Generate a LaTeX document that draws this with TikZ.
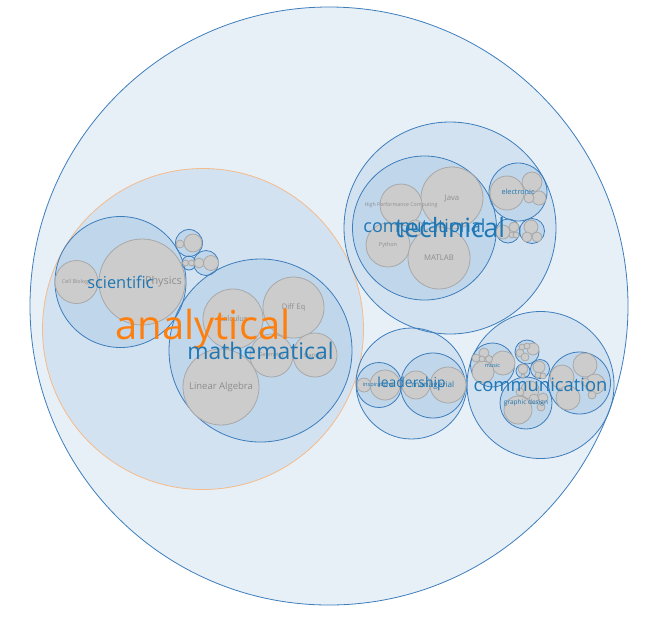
\documentclass[tikz,border=0pt]{standalone}
\usepackage{fontspec}
\setmainfont{Open Sans}
\usetikzlibrary{positioning}
\definecolor{packblue}{HTML}{3A7FC1}
\definecolor{rim}{HTML}{3D7DBB}
\definecolor{rimorange}{HTML}{F5BB8A}
\definecolor{leafgray}{HTML}{CCCCCC}
\definecolor{leafrim}{HTML}{A8A8A8}
\definecolor{tagblue}{HTML}{1F77B4}
\definecolor{tagorange}{HTML}{FF7F0E}
\definecolor{taggray}{HTML}{8E8E8E}

\begin{document}
\begin{tikzpicture}[x=1pt, y=-1pt,
  group/.style={circle, draw=rim, line width=0.8pt, fill=packblue, fill opacity=0.12, inner sep=0pt, outer sep=0pt, minimum size=#1},
  leaf/.style={circle, draw=leafrim, line width=0.8pt, fill=leafgray, inner sep=0pt, outer sep=0pt, minimum size=#1},
  tag/.style={text=tagblue, inner sep=0pt, font=\fontsize{#1}{#1}\selectfont},
  leaftag/.style={text=taggray, inner sep=0pt, font=\fontsize{#1}{#1}\selectfont}]
\useasboundingbox (0,0) rectangle (666,622);
% groups
\node[group=598pt] (skills) at (329,306) {};
\node[group=321pt, draw=rimorange] (analytical) at (203,329) {};
\node[group=131pt] (scientific) at (120.5,282) {};
\node[group=27pt] (sciA) at (189,243) {};
\node[group=14pt] (sciB) at (189,263) {};
\node[group=25pt] (sciC) at (206,263) {};
\node[group=183pt] (mathematical) at (260.5,350.5) {};
\node[group=212pt] (technical) at (450,228) {};
\node[group=144pt] (computational) at (424.5,228) {};
\node[group=58pt] (electronic) at (518,192) {};
\node[group=24pt] (techA) at (508,231) {};
\node[group=25pt] (techB) at (532,231) {};
\node[group=111pt] (leadership) at (411.5,383.5) {};
\node[group=45pt] (inspirational) at (379,385) {};
\node[group=65pt] (managerial) at (433,385.5) {};
\node[group=147pt] (communication) at (540.5,385) {};
\node[group=44pt] (music) at (492.5,365) {};
\node[group=24pt] (commA) at (527,352) {};
\node[group=19pt] (commB) at (540,369) {};
\node[group=14pt] (commC) at (523,371) {};
\node[group=52pt] (graphic) at (526,403) {};
\node[group=62pt] (commD) at (579.5,383) {};
% named leaves
\node[leaf=43pt] (cellbio) at (76.5,282) {};
\node[leaf=86pt] (physics) at (142,282) {};
\node[leaf=60pt] (calculus) at (233,319) {};
\node[leaf=61pt] (diffeq) at (293.5,307.5) {};
\node[leaf=43pt] (geometry) at (271.5,355.5) {};
\node[leaf=44pt] (statistics) at (315,355) {};
\node[leaf=76pt] (linalg) at (221,387) {};
\node[leaf=62pt] (java) at (452,198) {};
\node[leaf=42pt] (hpc) at (401,205) {};
\node[leaf=44pt] (python) at (388,245) {};
\node[leaf=62pt] (matlab) at (439,258) {};
% small leaves
\foreach \x/\y/\d [count=\i] in {
  180/244/8, 193/243/18, 185.5/263/6, 191.5/263/6, 199/263/10, 211/263/15,
  415/228/16, 507/193/34, 532/182/20, 539/198/14, 529/198/10,
  503/232/14, 514/227/10, 512/235/6, 516/235/6, 531/227/14, 527/237/10, 537/237/10,
  364/385/14, 385/385/30, 416/385/28, 448/385/36,
  503/363/24, 483/372/22, 484/353/10, 476/358/8, 489/359/7, 482/359/6,
  533/349/12, 520/353/8, 525/357/8, 522/347/6, 527/346/6,
  539/367/12, 538/375/6, 543/376/6, 523/369/10, 523/376/4,
  518/410/28, 530/390/18, 534/399/10, 543/398/10, 541/407/8, 520/392/8,
  585/365/24, 562/377/24, 568/398/24, 595/384/20, 585/382/8, 592/395/8}
  \node[leaf=\d pt] (bit\i) at (\x,\y) {};
% leaf labels
\node[leaftag=5.4] at (cellbio) {Cell Biology};
\node[leaftag=10.8, anchor=east] at ([xshift=-3pt]physics.east) {Physics};
\node[leaftag=7.5] at (calculus) {Calculus};
\node[leaftag=7.6] at (diffeq) {Diff Eq};
\node[leaftag=5.4] at (geometry) {Geometry};
\node[leaftag=5.5] at (statistics) {Statistics};
\node[leaftag=9.5] at (linalg) {Linear Algebra};
\node[leaftag=7.75] at (java) {Java};
\node[leaftag=5.25] at (hpc) {High Performance Computing};
\node[leaftag=5.5] at (python) {Python};
\node[leaftag=7.75] at (matlab) {MATLAB};
% group labels
\node[tag=7.25] at (electronic) {electronic};
\node[tag=5.6] at (inspirational) {inspirational};
\node[tag=8.1] at (managerial) {managerial};
\node[tag=5.5] at (music) {music};
\node[tag=6.5] at (graphic) {graphic design};
\node[tag=16.4] at (scientific) {scientific};
\node[tag=18] at (computational) {computational};
\node[tag=13.9] at (leadership) {leadership};
\node[tag=18.4] at (communication) {communication};
\node[tag=26.5] at (technical) {technical};
\node[tag=40, text=tagorange] at (analytical) {analytical};
\node[tag=22.9] at (mathematical) {mathematical};
\end{tikzpicture}
\end{document}
